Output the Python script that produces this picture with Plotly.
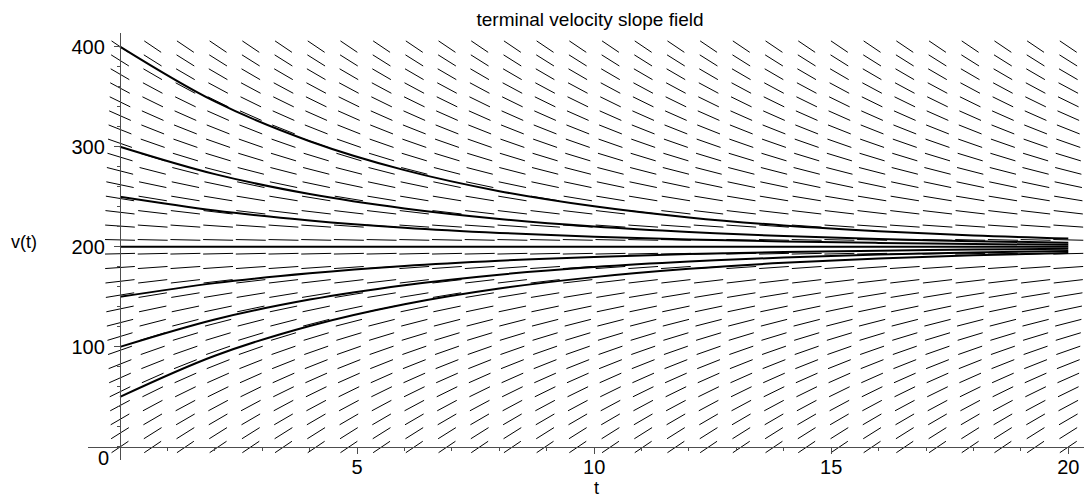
import numpy as np
import plotly.graph_objects as go

# ODE: dv/dt = G - K*v  (terminal velocity 200)
G = 32.0
K = 0.16

# slope-field grid
T_START, T_END, N_COLS = 0.0, 20.0, 30
V_START, V_END, N_ROWS = 0.0, 400.0, 30

# solution curves (values at t = 0, 2, ..., 20)
t_sol = [0, 2, 4, 6, 8, 10, 12, 14, 16, 18, 20]
v_from_400 = [400, 345.2, 305.5, 276.6, 255.6, 240.4, 229.3, 221.3, 215.5, 211.2, 208.2]
v_from_300 = [300, 272.6, 252.7, 238.3, 227.8, 220.2, 214.7, 210.7, 207.7, 205.6, 204.1]
v_from_250 = [250, 236.3, 226.4, 219.1, 213.9, 210.1, 207.3, 205.3, 203.9, 202.8, 202.0]
v_from_200 = [200, 200, 200, 200, 200, 200, 200, 200, 200, 200, 200]
v_from_150 = [150, 163.7, 173.6, 180.9, 186.1, 189.9, 192.7, 194.7, 196.1, 197.2, 198.0]
v_from_100 = [100, 127.4, 147.3, 161.7, 172.2, 179.8, 185.3, 189.3, 192.3, 194.4, 195.9]
v_from_50 = [50, 91.1, 120.9, 142.6, 158.3, 169.7, 178.0, 184.0, 188.4, 191.6, 193.9]

x_tick_vals = [5, 10, 15, 20]
y_tick_vals = [100, 200, 300, 400]

# ---- styling / layout constants ----
X_RANGE = [-0.675, 20.5]
Y_RANGE = [-13.0, 413.6]
SEG_T = 0.633   # full horizontal segment length (t units)
SEG_V = 13.8    # full vertical segment extent (v units)
FONT = "Liberation Sans, Arial, Helvetica, sans-serif"
AXIS_COLOR = "#4d4d4d"
BODY_PAD = 8    # default page margin around the figure div
FIG_W, FIG_H = 1092 - BODY_PAD, 499 - BODY_PAD

# build slope field segments
ts = np.linspace(T_START, T_END, N_COLS)
vs = np.linspace(V_START, V_END, N_ROWS)
sx, sy = [], []
for t in ts:
    for v in vs:
        f = G - K * v
        n = np.sqrt((1.0 / SEG_T) ** 2 + (f / SEG_V) ** 2)
        dt = 0.5 / n
        dv = 0.5 * f / n
        sx += [t - dt, t + dt, None]
        sy += [v - dv, v + dv, None]

fig = go.Figure()
fig.add_trace(go.Scatter(x=sx, y=sy, mode="lines",
                         line=dict(color="black", width=1),
                         hoverinfo="skip", showlegend=False))

for curve in [v_from_400, v_from_300, v_from_250, v_from_200,
              v_from_150, v_from_100, v_from_50]:
    fig.add_trace(go.Scatter(x=t_sol, y=curve, mode="lines",
                             line=dict(color="black", width=2, shape="spline"),
                             showlegend=False))

x_pos = (0 - X_RANGE[0]) / (X_RANGE[1] - X_RANGE[0])
y_pos = (0 - Y_RANGE[0]) / (Y_RANGE[1] - Y_RANGE[0])

fig.update_layout(
    width=FIG_W, height=FIG_H, autosize=False,
    margin=dict(l=88 - BODY_PAD, r=0, t=33 - BODY_PAD, b=39, autoexpand=False),
    paper_bgcolor="white", plot_bgcolor="white",
    font=dict(family=FONT, color="black", size=20),
    title=dict(text="terminal velocity slope field", x=0.5, xref="paper",
               xanchor="center", y=1 - (19 - BODY_PAD) / FIG_H, yref="container",
               yanchor="middle",
               font=dict(size=19, family=FONT, color="black")),
    xaxis=dict(range=X_RANGE, anchor="free", position=y_pos,
               showgrid=False, zeroline=False, showline=True,
               linecolor=AXIS_COLOR, linewidth=1.3,
               ticks="outside", ticklen=6, tickcolor=AXIS_COLOR, tickwidth=1.3,
               tickvals=x_tick_vals, tickfont=dict(size=20),
               ticklabelstandoff=-4,
               minor=dict(dtick=1, tick0=0, ticks="outside", ticklen=3,
                          tickcolor=AXIS_COLOR, showgrid=False)),
    yaxis=dict(range=Y_RANGE, anchor="free", position=x_pos,
               showgrid=False, zeroline=False, showline=True,
               linecolor=AXIS_COLOR, linewidth=1.3,
               ticks="outside", ticklen=6, tickcolor=AXIS_COLOR, tickwidth=1.3,
               tickvals=y_tick_vals, tickfont=dict(size=20),
               ticklabelstandoff=5,
               minor=dict(dtick=20, tick0=0, ticks="outside", ticklen=3,
                          tickcolor=AXIS_COLOR, showgrid=False)),
    annotations=[
        dict(text="0", x=0, y=0, xref="x", yref="y", showarrow=False,
             xanchor="center", yanchor="middle", xshift=-17, yshift=-11,
             font=dict(size=20)),
        dict(text="t", x=10.06, y=0, xref="x", yref="y", showarrow=False,
             xanchor="center", yanchor="middle", yshift=-41,
             font=dict(size=18)),
        dict(text="v(t)", x=(24 - 88) / 1004, y=205, xref="paper", yref="y",
             showarrow=False, xanchor="center", yanchor="middle",
             font=dict(size=18)),
    ],
)

fig.write_html("out.html")
